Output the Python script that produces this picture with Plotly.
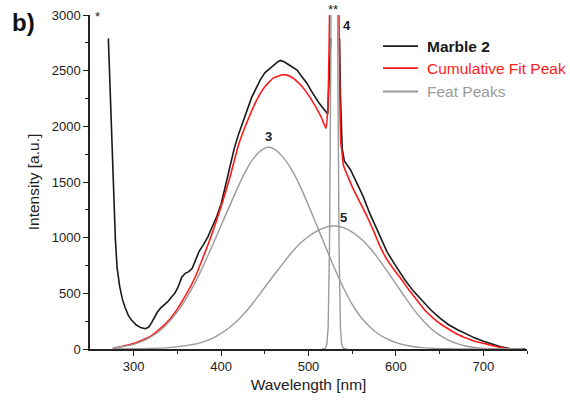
import plotly.graph_objects as go

# ---- data ----
marble_x = [271, 273, 275, 277, 279, 281, 284, 287, 290, 294, 298, 303, 308, 313, 317, 320, 323, 327, 331, 335,
            339, 343, 347, 351, 355, 359, 363, 367, 371, 375, 380, 385, 390, 395, 400, 405, 410, 415, 420, 425,
            430, 435, 440, 445, 450, 455, 460, 465, 468, 472, 477, 482, 487, 492, 498, 503, 507, 512, 517, 522,
            523.5, 525.5,
            None,
            535.5, 536.5, 538.5, 541, 548, 555, 562, 570, 580, 590, 600, 610, 620, 630, 640, 650, 660, 670, 680,
            690, 700, 710, 720, 730, 735, 748]
marble_y = [2790, 2330, 1880, 1420, 990, 730, 560, 450, 375, 300, 255, 215, 192, 182, 195, 230, 275, 330, 370, 400,
            425, 465, 500, 560, 645, 680, 695, 725, 800, 880, 940, 1010, 1100, 1190, 1300, 1460, 1630, 1800, 1930, 2050,
            2150, 2260, 2340, 2420, 2480, 2515, 2545, 2580, 2592, 2580, 2555, 2530, 2505, 2450, 2390, 2320, 2270, 2210, 2160, 2110,
            2400, 2790,
            None,
            2790, 2300, 1800, 1690, 1610, 1490, 1380, 1220, 1040, 870, 745, 625, 520, 430, 350, 280, 220, 175, 135,
            100, 70, 45, 20, 5, 0, 0]

fit_x = [276, 285, 290, 300, 310, 320, 330, 340, 350, 360, 370, 380, 390, 400, 410, 420, 430, 440, 450, 460,
         470, 475, 480, 490, 500, 510, 515, 520, 522, 523, 524, 525, 527, 529.5, 532, 534, 535, 536, 537, 538,
         540, 545, 551, 560, 567, 575, 582, 590, 600, 605, 615, 624, 633, 643, 652, 662, 671, 681, 690, 700,
         710, 719, 725, 730, 745]
fit_y = [6, 20, 30, 50, 80, 118, 180, 255, 360, 490, 640, 835, 1045, 1280, 1540, 1835, 2045, 2225, 2355, 2435,
         2462, 2460, 2445, 2380, 2280, 2150, 2075, 1983, 2150, 2450, 2950, 3500, 7000, 9500, 7000, 3600, 2900, 2200, 1850, 1790,
         1650, 1550, 1440, 1300, 1190, 1050, 920, 800, 690, 640, 530, 440, 350, 276, 220, 171, 130, 96, 70, 51,
         32, 15, 7, 2, 0]

peak3_x = [276, 285, 295, 305, 315, 325, 335, 345, 355, 365, 375, 385, 395, 405, 415, 425, 435, 445, 453, 460,
           470, 480, 490, 500, 510, 520, 530, 540, 550, 560, 570, 580, 590, 600, 610, 620, 630, 645, 660, 680, 745]
peak3_y = [10, 18, 32, 55, 88, 135, 200, 285, 390, 520, 670, 840, 1020, 1200, 1380, 1550, 1690, 1780, 1812, 1800,
           1730, 1620, 1470, 1290, 1100, 910, 720, 550, 400, 285, 200, 135, 90, 58, 36, 22, 12, 5, 2, 0, 0]

peak4_x = [515, 519, 521, 522.5, 524, 525.5, 527, 529.5, 532, 533.5, 535, 536.5, 538, 540, 544]
peak4_y = [0, 5, 40, 200, 900, 2600, 5500, 8000, 5500, 2600, 900, 200, 40, 5, 0]

peak5_x = [276, 300, 320, 340, 360, 376, 390, 400, 410, 420, 430, 440, 450, 460, 470, 480, 490, 500, 510, 520,
           530, 540, 550, 560, 570, 580, 590, 600, 610, 620, 630, 640, 650, 660, 670, 680, 690, 700, 715, 745]
peak5_y = [0, 2, 5, 12, 30, 55, 95, 140, 195, 265, 350, 450, 555, 660, 760, 860, 945, 1010, 1060, 1095,
           1105, 1090, 1050, 990, 910, 810, 700, 585, 470, 360, 265, 185, 125, 80, 48, 27, 14, 6, 0, 0]

x_ticks = [300, 400, 500, 600, 700]
x_minor = [350, 450, 550, 650, 750]
y_ticks = [0, 500, 1000, 1500, 2000, 2500, 3000]
y_minor = [250, 750, 1250, 1750, 2250, 2750]

legend_names = ["<b>Marble 2</b>", "Cumulative Fit Peak", "Feat Peaks"]

FONT = "Liberation Sans, Arial, sans-serif"
BLACK = "#1a1a1a"
RED = "#ff1a1a"
GRAY = "#9a9a9a"
colors = [BLACK, RED, GRAY]

fig = go.Figure()
fig.add_trace(go.Scatter(x=marble_x, y=marble_y, mode="lines", name="Marble 2", showlegend=False,
                         line=dict(color=BLACK, width=1.6), connectgaps=False))
fig.add_trace(go.Scatter(x=fit_x, y=fit_y, mode="lines", name="Cumulative Fit Peak", showlegend=False,
                         line=dict(color=RED, width=1.6, shape="spline", smoothing=0.5)))
fig.add_trace(go.Scatter(x=peak3_x, y=peak3_y, mode="lines", name="Feat Peaks", showlegend=False,
                         line=dict(color=GRAY, width=1.4, shape="spline", smoothing=0.6)))
fig.add_trace(go.Scatter(x=peak4_x, y=peak4_y, mode="lines", name="Feat Peaks", showlegend=False,
                         line=dict(color=GRAY, width=1.4)))
fig.add_trace(go.Scatter(x=peak5_x, y=peak5_y, mode="lines", name="Feat Peaks", showlegend=False,
                         line=dict(color=GRAY, width=1.4, shape="spline", smoothing=0.6)))

# manual legend (paper coordinates)
leg_x0, leg_x1, leg_tx = 0.6705, 0.7506, 0.7666
leg_rows = [0.907, 0.841, 0.771]
shapes = []
annotations = []
for name, col, yy in zip(legend_names, colors, leg_rows):
    shapes.append(dict(type="line", xref="paper", yref="paper", x0=leg_x0, x1=leg_x1, y0=yy, y1=yy,
                       line=dict(color=col, width=1.8)))
    annotations.append(dict(text=name, xref="paper", yref="paper", x=leg_tx, y=yy, xanchor="left", yanchor="middle",
                            showarrow=False, font=dict(size=15.5, family=FONT, color=col)))


def lab(text, x, y, xref="x", yref="y", size=13):
    return dict(text=text, xref=xref, yref=yref, x=x, y=y, xanchor="center", yanchor="middle",
                showarrow=False, font=dict(size=size, color="#222", family=FONT))


annotations += [
    dict(text="<b>b)</b>", xref="paper", yref="paper", x=-0.153, y=0.979, xanchor="center", yanchor="middle",
         showarrow=False, font=dict(size=24, color="#111", family=FONT)),
    lab("*", 259, 0.996, yref="paper"),
    lab("**", 528, 1.015, yref="paper"),
    lab("<b>4</b>", 544, 2904),
    lab("<b>3</b>", 453.7, 1905),
    lab("<b>5</b>", 539.5, 1180),
]

fig.update_layout(
    width=570, height=401,
    margin=dict(l=90, r=43, t=15, b=52),
    paper_bgcolor="white", plot_bgcolor="white",
    font=dict(family=FONT, color="#222"),
    showlegend=False,
    shapes=shapes,
    annotations=annotations,
    xaxis=dict(range=[250, 750], tickvals=x_ticks, ticks="outside", ticklen=5, tickwidth=1.2, tickcolor="#222",
               showline=True, linecolor="#222", linewidth=1.5, showgrid=False, zeroline=False, automargin=False,
               tickfont=dict(size=13, family=FONT, color="#222"),
               minor=dict(tickvals=x_minor, ticks="outside", ticklen=3, tickcolor="#222", tickwidth=1.2),
               title=dict(text="Wavelength [nm]", font=dict(size=15.5, family=FONT, color="#222"), standoff=6)),
    yaxis=dict(range=[0, 3000], tickvals=y_ticks, ticks="outside", ticklen=5, tickwidth=1.2, tickcolor="#222",
               showline=True, linecolor="#222", linewidth=1.5, showgrid=False, zeroline=False, automargin=False,
               tickfont=dict(size=13, family=FONT, color="#222"),
               minor=dict(tickvals=y_minor, ticks="outside", ticklen=3, tickcolor="#222", tickwidth=1.2),
               title=dict(text="Intensity [a.u.]", font=dict(size=15.5, family=FONT, color="#222"), standoff=8)),
)

fig.write_html("out.html")
